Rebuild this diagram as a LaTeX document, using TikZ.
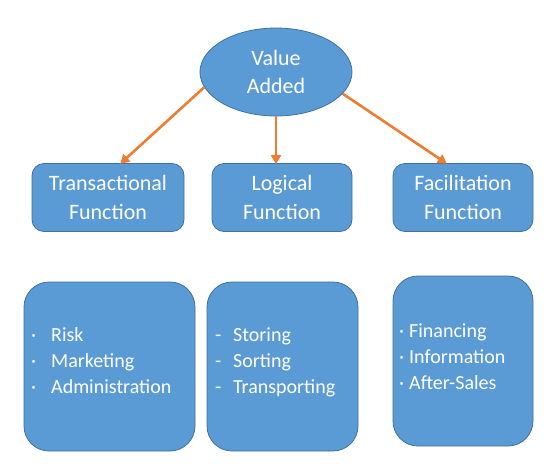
\documentclass[tikz,border=0pt]{standalone}
\usepackage{fontspec}
\setmainfont{Carlito}
\usetikzlibrary{shapes.geometric,arrows.meta}
\definecolor{boxfill}{HTML}{5B9BD5}
\definecolor{boxline}{HTML}{41719C}
\definecolor{arrowc}{HTML}{ED7D31}
\begin{document}
\begin{tikzpicture}[x=1pt,y=-1pt,
  shapebase/.style={draw=boxline, fill=boxfill, line width=0.8pt, inner sep=0pt, text=white},
  topbox/.style={shapebase, rounded corners=12pt, minimum width=152pt, minimum height=68pt, align=center, font=\fontsize{22}{29}\selectfont},
  listbox/.style={shapebase, rounded corners=25pt},
  listtxt/.style={anchor=base west, inner sep=0pt, align=left, text=white, font=\fontsize{20}{26}\selectfont},
  arr/.style={draw=arrowc, line width=2.6pt, -{Triangle[length=9pt,width=10pt]}, shorten >=-1pt}]
\useasboundingbox (0,0) rectangle (557,469);
\fill[white] (0,0) rectangle (557,469);
% top ellipse
\node[shapebase, ellipse, minimum width=152pt, minimum height=88pt, align=center, font=\fontsize{22}{28}\selectfont] (va) at (276,72) {Value\\Added};
% function boxes
\node[topbox] (t1) at (108,197.5) {Transactional\\Function};
\node[topbox, minimum width=140pt] (t2) at (282,197.5) {Logical\\Function};
\node[topbox, minimum width=140pt] (t3) at (463,197.5) {Facilitation\\Function};
% list boxes
\node[listbox, minimum width=171pt, minimum height=169pt] (b1) at (109.5,366.5) {};
\node[listbox, minimum width=151pt, minimum height=169pt] (b2) at (282.5,366.5) {};
\node[listbox, minimum width=140pt, minimum height=170pt] (b3) at (463,361) {};
% list texts
\node[listtxt] (l1) at (31,393) {\makebox[20pt][l]{·}Risk\\\makebox[20pt][l]{·}Marketing\\\makebox[20pt][l]{·}Administration};
\node[listtxt] (l2) at (215,393) {\makebox[18pt][l]{-}Storing\\\makebox[18pt][l]{-}Sorting\\\makebox[18pt][l]{-}Transporting};
\node[listtxt] (l3) at (399,389) {\makebox[10pt][l]{·}Financing\\\makebox[10pt][l]{·}Information\\\makebox[10pt][l]{·}After-Sales};
% arrows
\draw[arr] (va.192) -- ([xshift=13pt]t1.north);
\draw[arr] (va.south) -- ([xshift=-6pt]t2.north);
\draw[arr] (va.-18) -- ([xshift=-17pt]t3.north);
\end{tikzpicture}
\end{document}
